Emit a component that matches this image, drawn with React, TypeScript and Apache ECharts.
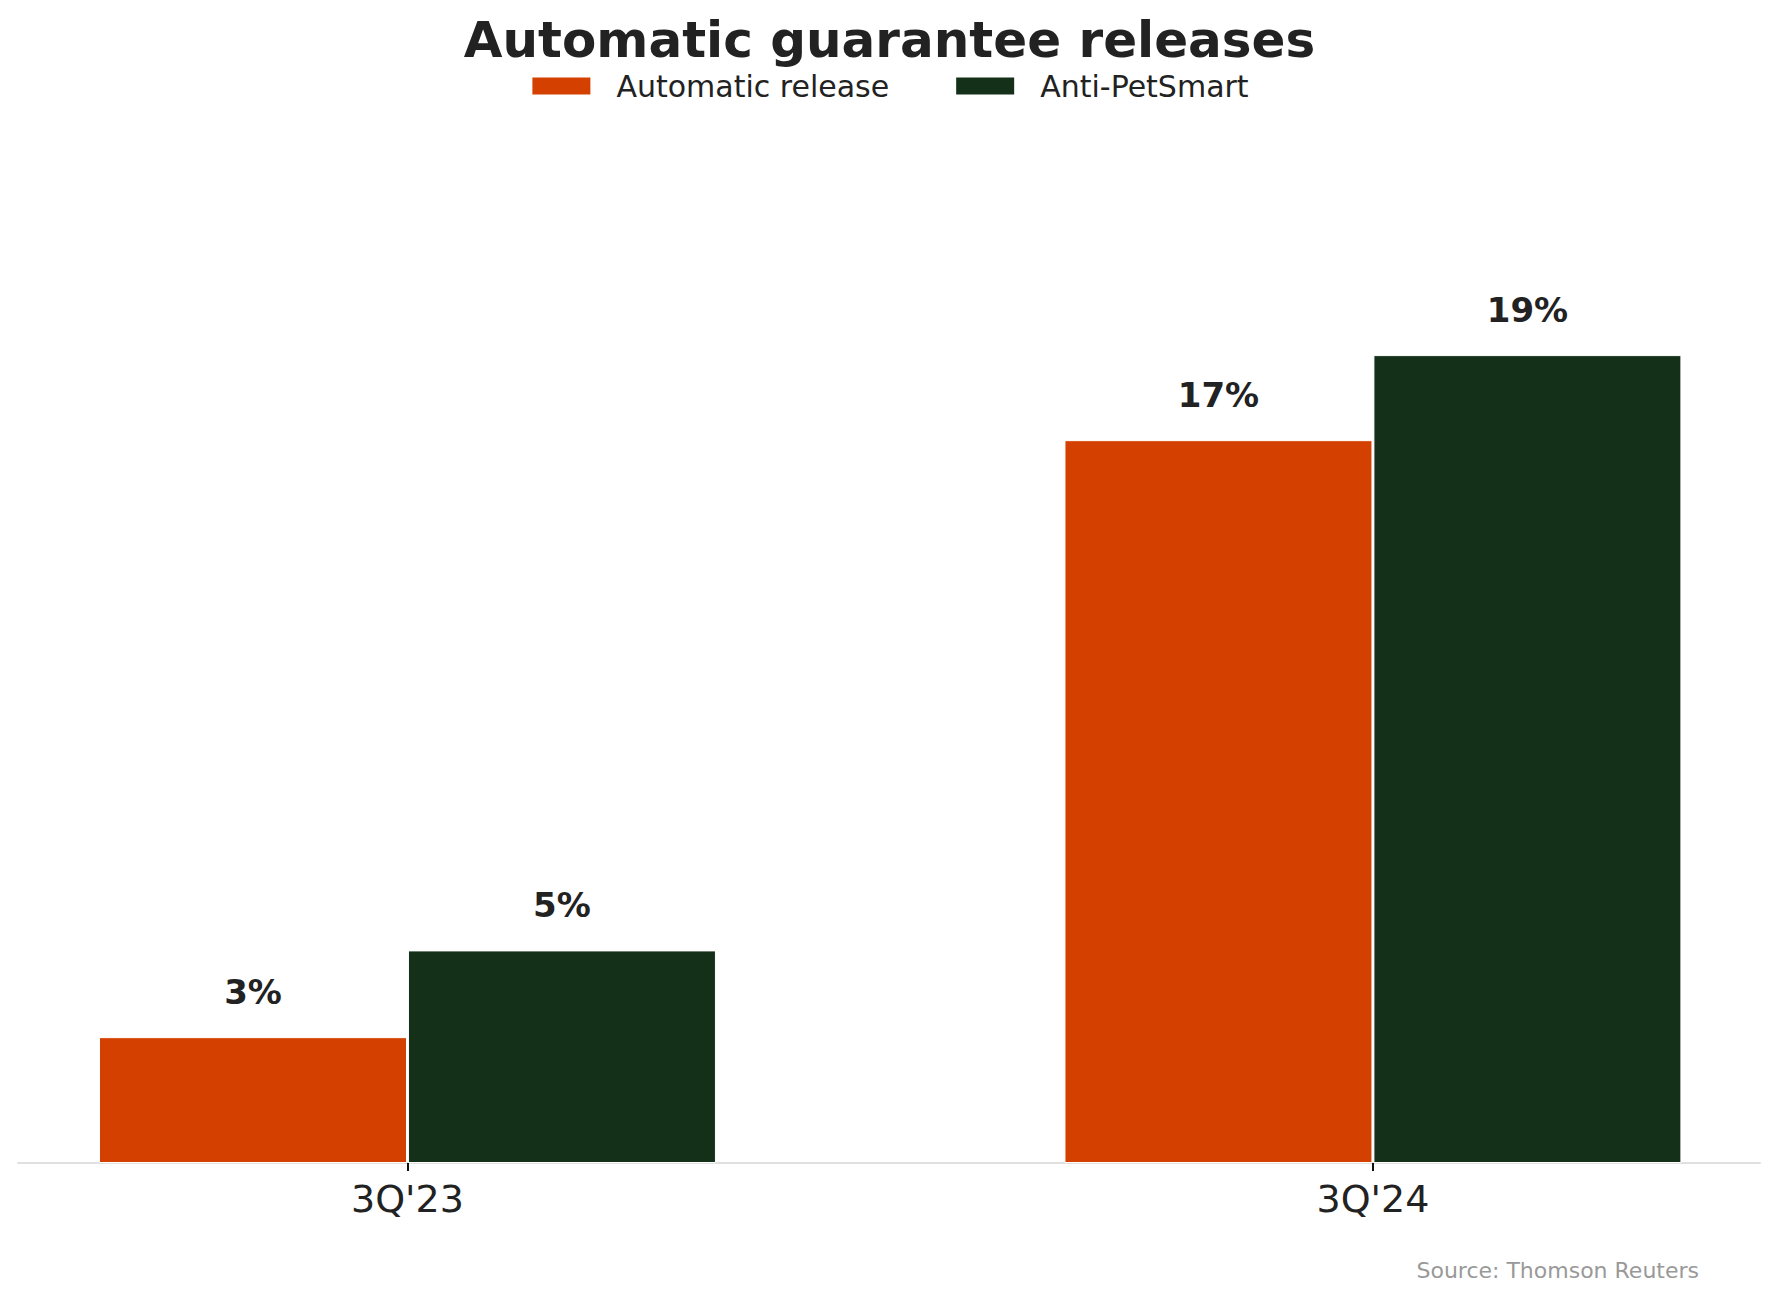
import React, { useEffect, useRef } from "react";
import * as echarts from "echarts";

// quarters shown on the x axis
const categories: string[] = ["3Q'23", "3Q'24"];

// share of guarantees, in percent
const automaticRelease: number[] = [2.96, 17];
const antiPetSmart: number[] = [5, 19];

const seriesNames: string[] = ["Automatic release", "Anti-PetSmart"];

const ORANGE = "#D44000";
const GREEN = "#143018";
const BAR_W = 0.32; // bar width in category units

const App: React.FC = () => {
  const chartRef = useRef<HTMLDivElement | null>(null);

  useEffect(() => {
    const chartDom = chartRef.current;
    if (!chartDom) return;
    const myChart = echarts.init(chartDom, undefined, { renderer: "svg" });

    const toPoints = (vals: number[], offset: number) =>
      vals.map((v, i) => [i + offset, v]);

    const barLabel = {
      show: true,
      position: "top",
      distance: 28,
      fontFamily: "DejaVu Sans",
      fontSize: 34,
      fontWeight: "bold",
      color: "#222222",
      formatter: (p: any) => `${Math.round(p.value[1])}%`,
    };

    const option = {
      animation: false,
      backgroundColor: "#ffffff",
      title: [
        {
          text: "Automatic guarantee releases",
          left: "center",
          top: 15,
          padding: 0,
          textStyle: {
            fontFamily: "DejaVu Sans",
            fontSize: 50,
            fontWeight: "bold",
            color: "#222222",
          },
        },
        {
          text: "Source: Thomson Reuters",
          right: 80,
          top: 1259,
          padding: 0,
          textStyle: {
            fontFamily: "DejaVu Sans",
            fontSize: 22,
            fontWeight: "normal",
            color: "#999999",
          },
        },
      ],
      legend: {
        top: 71,
        left: "center",
        padding: 0,
        itemWidth: 60,
        itemHeight: 19,
        itemGap: 65,
        icon: "rect",
        data: seriesNames,
        textStyle: {
          fontFamily: "DejaVu Sans",
          fontSize: 30,
          color: "#222222",
          padding: [0, 0, 0, 20],
        },
      },
      grid: {
        left: 18,
        right: 19,
        top: 100,
        bottom: 138,
        containLabel: false,
      },
      xAxis: {
        type: "value",
        min: -0.4034,
        max: 1.4009,
        splitLine: { show: false },
        axisLine: {
          show: true,
          onZero: false,
          lineStyle: { color: "#e0e0e0", width: 2 },
        },
        axisTick: {
          show: true,
          customValues: [0, 1],
          length: 8,
          lineStyle: { color: "#111111", width: 2 },
        },
        axisLabel: {
          show: true,
          customValues: [0, 1],
          margin: 17,
          fontFamily: "DejaVu Sans",
          fontSize: 38,
          color: "#222222",
          formatter: (v: number) => categories[Math.round(v)] ?? "",
        },
      },
      yAxis: {
        type: "value",
        min: 0,
        max: 25,
        show: false,
        splitLine: { show: false },
      },
      series: [
        {
          name: seriesNames[0],
          type: "bar",
          barWidth: 308,
          barGap: "-100%",
          data: toPoints(automaticRelease, -BAR_W / 2),
          itemStyle: { color: ORANGE, borderColor: "#ffffff", borderWidth: 1 },
          label: barLabel,
        },
        {
          name: seriesNames[1],
          type: "bar",
          barWidth: 308,
          barGap: "-100%",
          data: toPoints(antiPetSmart, BAR_W / 2),
          itemStyle: { color: GREEN, borderColor: "#ffffff", borderWidth: 1 },
          label: barLabel,
        },
      ],
    };

    myChart.setOption(option);

    return () => {
      myChart.dispose();
    };
  }, []);

  return (
    <div
      ref={chartRef}
      style={{
        position: "fixed",
        top: 0,
        left: 0,
        width: "100vw",
        height: "100vh",
      }}
    />
  );
};

export default App;
